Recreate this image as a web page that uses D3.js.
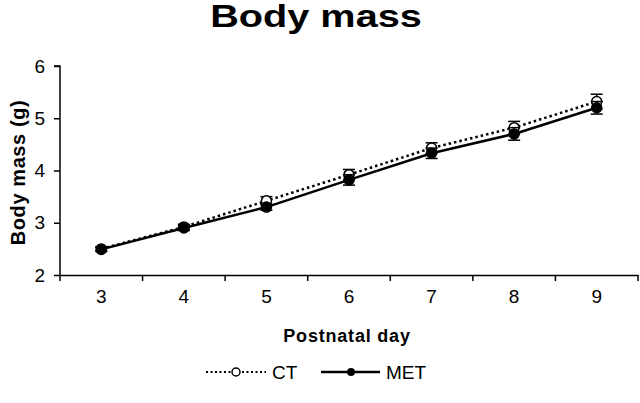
<!DOCTYPE html>
<html><head><meta charset="utf-8">
<script src="https://cdn.jsdelivr.net/npm/d3@7"></script>
<style>body{margin:0;background:#fff}svg{display:block}text{font-family:"Liberation Sans",Arial,sans-serif}</style>
</head><body>
<svg id="c" width="640" height="403"></svg>
<script>
const days = ["3","4","5","6","7","8","9"];
const ctMean = [2.50, 2.92, 3.42, 3.92, 4.43, 4.82, 5.32];
const ctErr  = [0.04, 0.05, 0.08, 0.10, 0.10, 0.12, 0.14];
const metMean = [2.49, 2.90, 3.30, 3.82, 4.33, 4.70, 5.20];
const metErr  = [0.04, 0.05, 0.06, 0.10, 0.10, 0.12, 0.12];
const yTicks = [2, 3, 4, 5, 6];

const svg = d3.select("#c");
const m = {l: 60, r: 2, t: 66, b: 128};
const W = 640, H = 403;
const x = d3.scaleBand().domain(days).range([m.l, W - m.r]);
const y = d3.scaleLinear().domain([2, 6]).range([H - m.b, m.t]);

svg.append("text").attr("transform", "translate(316,27) scale(1.28,1)").attr("text-anchor", "middle")
  .attr("font-size", 31).attr("font-weight", "bold").text("Body mass");

const xa = svg.append("g").attr("transform", `translate(0,${y(2)})`)
  .call(d3.axisBottom(x).tickSize(0).tickPadding(15));
xa.select(".domain").attr("stroke", "#000").attr("stroke-width", 1.5);
xa.selectAll("text").attr("font-size", 19).attr("fill", "#000").attr("transform", "scale(0.92,1)")
  .attr("x", function() { return 0; });
xa.selectAll(".tick text").attr("transform", null);
// band boundary ticks
const bounds = days.map(d => x(d)).concat([x(days[days.length-1]) + x.bandwidth()]);
xa.selectAll(".bt").data(bounds).join("line").attr("class","bt")
  .attr("x1", d => d).attr("x2", d => d).attr("y1", 0).attr("y2", 6)
  .attr("stroke", "#000").attr("stroke-width", 1.5);

const ya = svg.append("g").attr("transform", `translate(${m.l},0)`)
  .call(d3.axisLeft(y).tickValues(yTicks).tickSize(6).tickPadding(9).tickFormat(d3.format("d")));
ya.select(".domain").attr("stroke", "#000").attr("stroke-width", 1.5).attr("d", `M-6,${y(6)}H0V${y(2)}`);
ya.selectAll(".tick line").attr("stroke", "#000").attr("stroke-width", 1.5);
ya.selectAll("text").attr("font-size", 19).attr("fill", "#000");

svg.append("text").attr("transform", `translate(25,${(y(2)+y(6))/2 + 2}) rotate(-90)`)
  .attr("text-anchor", "middle").attr("font-size", 20).attr("font-weight", "bold")
  .attr("letter-spacing", 0.6).text("Body mass (g)");
svg.append("text").attr("x", 347).attr("y", 342).attr("text-anchor", "middle")
  .attr("font-size", 18).attr("font-weight", "bold").attr("letter-spacing", 0.8).text("Postnatal day");

const cx = d => x(d) + x.bandwidth()/2;
function series(means, errs, dash, fill) {
  const g = svg.append("g");
  const pts = days.map((d,i) => ({d, v: means[i], e: errs[i]}));
  g.append("path").datum(pts)
    .attr("d", d3.line().x(p => cx(p.d)).y(p => y(p.v)))
    .attr("fill", "none").attr("stroke", "#000")
    .attr("stroke-width", 2.5)
    .attr("stroke-dasharray", dash ? "2.5,3" : null);
  const eb = g.selectAll(".eb").data(pts).join("g");
  eb.append("line").attr("x1", p => cx(p.d)).attr("x2", p => cx(p.d))
    .attr("y1", p => y(p.v - p.e)).attr("y2", p => y(p.v + p.e)).attr("stroke", "#000").attr("stroke-width", 1.5);
  eb.append("line").attr("x1", p => cx(p.d) - 6).attr("x2", p => cx(p.d) + 6)
    .attr("y1", p => y(p.v + p.e)).attr("y2", p => y(p.v + p.e)).attr("stroke", "#000").attr("stroke-width", 1.5);
  eb.append("line").attr("x1", p => cx(p.d) - 6).attr("x2", p => cx(p.d) + 6)
    .attr("y1", p => y(p.v - p.e)).attr("y2", p => y(p.v - p.e)).attr("stroke", "#000").attr("stroke-width", 1.5);
  g.selectAll(".pt").data(pts).join("circle")
    .attr("cx", p => cx(p.d)).attr("cy", p => y(p.v)).attr("r", 5)
    .attr("fill", fill).attr("stroke", "#000").attr("stroke-width", 1.5);
}
series(ctMean, ctErr, true, "#fff");
series(metMean, metErr, false, "#000");

// legend
const lg = svg.append("g");
lg.append("line").attr("x1", 206).attr("x2", 266).attr("y1", 372).attr("y2", 372)
  .attr("stroke", "#000").attr("stroke-width", 2).attr("stroke-dasharray", "2,2.5");
lg.append("circle").attr("cx", 236).attr("cy", 372).attr("r", 4).attr("fill", "#fff").attr("stroke", "#000").attr("stroke-width", 1.5);
lg.append("text").attr("x", 272).attr("y", 379).attr("font-size", 19).text("CT");
lg.append("line").attr("x1", 321).attr("x2", 380).attr("y1", 372).attr("y2", 372)
  .attr("stroke", "#000").attr("stroke-width", 2.5);
lg.append("circle").attr("cx", 351).attr("cy", 372).attr("r", 4).attr("fill", "#000");
lg.append("text").attr("x", 386).attr("y", 379).attr("font-size", 19).text("MET");
</script>
</body></html>
